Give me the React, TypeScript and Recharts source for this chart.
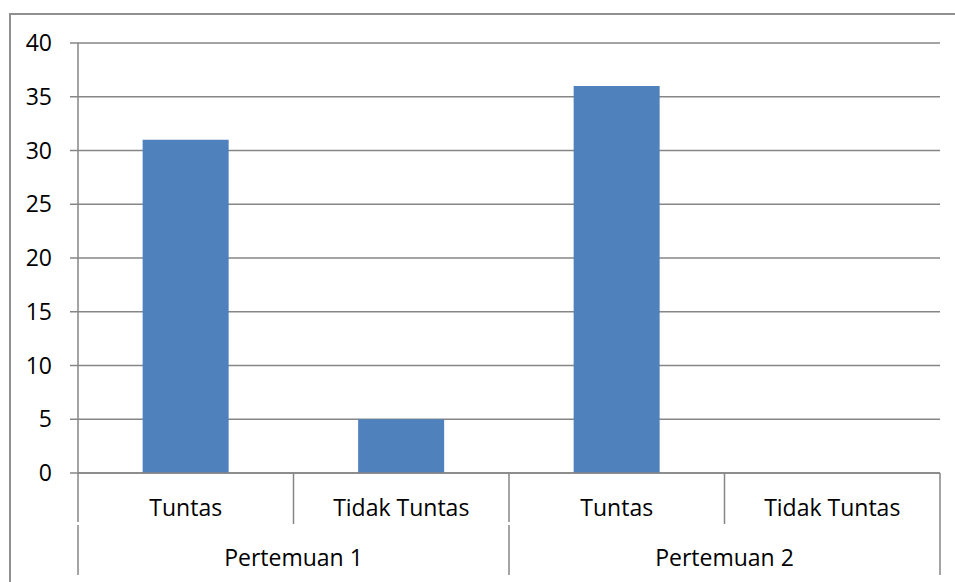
import React from "react"
import { BarChart, Bar, XAxis, YAxis, CartesianGrid } from "recharts"

// category labels (first row) and grouping labels (second row)
const categories = ["Tuntas", "Tidak Tuntas", "Tuntas", "Tidak Tuntas"]
const groups = ["Pertemuan 1", "Pertemuan 1", "Pertemuan 2", "Pertemuan 2"]
const values = [31, 5, 36, 0]
const yTicks = [0, 5, 10, 15, 20, 25, 30, 35, 40]

const W = 955
const H = 582
const PLOT_LEFT = 78
const PLOT_RIGHT = 940
const PLOT_TOP = 43
const PLOT_BOTTOM = 473
const GRID = "#868686"
const FONT = "'Open Sans', Lato, sans-serif"
const FONT_SIZE = 23

const data = categories.map((name, i) => ({ name, group: groups[i], value: values[i] }))

interface TickProps {
    x?: number
    index?: number
    payload?: { value: string }
}

// two-level category axis, drawn like a spreadsheet chart
function CategoryTick({ x = 0, index = 0, payload }: TickProps) {
    const band = (PLOT_RIGHT - PLOT_LEFT) / categories.length
    const left = x - band / 2
    const right = x + band / 2
    const groupStart = index === 0 || groups[index] !== groups[index - 1]
    const last = index === categories.length - 1
    let groupEnd = index
    while (groupEnd + 1 < groups.length && groups[groupEnd + 1] === groups[index]) groupEnd++
    const groupCenter = left + ((groupEnd - index + 1) * band) / 2

    return (
        <g>
            {groupStart ? (
                <>
                    <line x1={left} x2={left} y1={PLOT_BOTTOM} y2={522} stroke={GRID} strokeWidth={1.5} />
                    <line x1={left} x2={left} y1={525} y2={575} stroke={GRID} strokeWidth={1.5} />
                </>
            ) : (
                <line x1={left} x2={left} y1={PLOT_BOTTOM} y2={524} stroke={GRID} strokeWidth={1.5} />
            )}
            {last && (
                <line x1={right} x2={right} y1={PLOT_BOTTOM} y2={575} stroke={GRID} strokeWidth={1.5} />
            )}
            <text x={x} y={508} dy="0.355em" textAnchor="middle" fill="#000" fontSize={FONT_SIZE} fontFamily={FONT}>
                {payload?.value}
            </text>
            {groupStart && (
                <text x={groupCenter} y={558} dy="0.355em" textAnchor="middle" fill="#000" fontSize={FONT_SIZE} fontFamily={FONT}>
                    {groups[index]}
                </text>
            )}
        </g>
    )
}

export default function App() {
    return (
        <div style={{ position: "absolute", left: 0, top: 0, width: W, height: H, overflow: "hidden", background: "#fff" }}>
            <div
                style={{
                    position: "absolute",
                    left: 9,
                    top: 13,
                    width: W + 60,
                    height: H + 60,
                    border: "2px solid #909090",
                }}
            />
            <div style={{ position: "absolute", left: 0, top: 0 }}>
                <BarChart
                    width={W}
                    height={H}
                    data={data}
                    margin={{ top: PLOT_TOP, right: W - PLOT_RIGHT, bottom: 0, left: 0 }}
                    barCategoryGap="30%"
                >
                    <CartesianGrid horizontal vertical={false} stroke={GRID} strokeWidth={1.5} />
                    <XAxis
                        dataKey="name"
                        height={H - PLOT_BOTTOM}
                        axisLine={{ stroke: GRID, strokeWidth: 1.5 }}
                        tickLine={false}
                        interval={0}
                        tick={<CategoryTick />}
                    />
                    <YAxis
                        width={PLOT_LEFT}
                        domain={[0, 40]}
                        ticks={yTicks}
                        interval={0}
                        axisLine={{ stroke: GRID, strokeWidth: 1.5 }}
                        tickLine={{ stroke: GRID, strokeWidth: 1.5 }}
                        tickSize={8}
                        tickMargin={18}
                        tick={{ fill: "#000", fontSize: FONT_SIZE, fontFamily: FONT }}
                    />
                    <Bar dataKey="value" fill="#4F81BD" isAnimationActive={false} />
                </BarChart>
            </div>
        </div>
    )
}
